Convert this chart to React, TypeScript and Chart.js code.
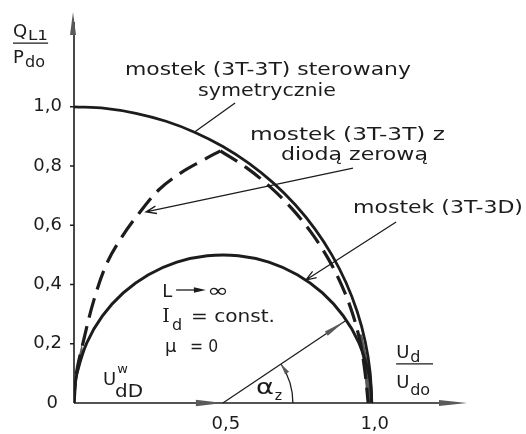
import { useEffect, useRef } from "react";
import { Chart, registerables } from "chart.js";

Chart.register(...registerables);

// (3T-3T) bridge, symmetric control: quarter circle Q = sin a, U = cos a
const symU = [1.0, 0.9945, 0.9781, 0.9511, 0.9135, 0.866, 0.809, 0.7431, 0.6691, 0.5878, 0.5, 0.4067, 0.309, 0.2079, 0.1045, 0.0];
const symQ = [0.0, 0.1045, 0.2079, 0.309, 0.4067, 0.5, 0.5878, 0.6691, 0.7431, 0.809, 0.866, 0.9135, 0.9511, 0.9781, 0.9945, 1.0];

// (3T-3D) half-controlled bridge: semicircle over 0..1
const halfU = [0.0, 0.0027, 0.0109, 0.0432, 0.0955, 0.1654, 0.25, 0.3455, 0.4477, 0.5523, 0.6545, 0.75, 0.8346, 0.9045, 0.9568, 0.9891, 0.9973, 1.0];
const halfQ = [0.0, 0.0523, 0.104, 0.2034, 0.2939, 0.3716, 0.433, 0.4755, 0.4973, 0.4973, 0.4755, 0.433, 0.3716, 0.2939, 0.2034, 0.104, 0.0523, 0.0];

// (3T-3T) bridge with freewheeling diode: rising and falling branch
const diodeRiseU = [0.0, 0.008, 0.027, 0.067, 0.111, 0.161, 0.218, 0.285, 0.359, 0.43, 0.4915];
const diodeRiseQ = [0.0, 0.1, 0.189, 0.348, 0.473, 0.561, 0.64, 0.72, 0.777, 0.818, 0.8513];
const diodeFallU = [0.4915, 0.5778, 0.6578, 0.7305, 0.7953, 0.8513, 0.898, 0.9349, 0.9615, 0.9776, 0.988];
const diodeFallQ = [0.8513, 0.7953, 0.7305, 0.6578, 0.5778, 0.4915, 0.3998, 0.3038, 0.2044, 0.1028, 0.0];

// ink-filled wedges where the curves run together
const shadeOriginU = [0.003, 0.012, 0.026, 0.031, 0.014, 0.006];
const shadeOriginQ = [0.06, 0.14, 0.2, 0.17, 0.1, 0.05];
const shadeEndU = [0.953, 0.972, 0.985, 1.003, 0.993, 0.968];
const shadeEndQ = [0.235, 0.13, 0.0, 0.0, 0.11, 0.23];

const yTicks = [0, 0.2, 0.4, 0.6, 0.8, 1.0];
const yTickLabels = ["0", "0,2", "0,4", "0,6", "0,8", "1,0"];
const xTicks = [0.5, 1.0];
const xTickLabels = ["0,5", "1,0"];

const INK = "#1c1c1c";
const GREY = "#5a5a5a";
const FONT = "DejaVu Sans";

const pts = (u: number[], q: number[]) => u.map((v, i) => ({ x: v, y: q[i] }));

type Note = { t: string; u: number; q: number; size: number; w?: number; family?: string };

const notes: Note[] = [
  { t: "mostek (3T-3T) sterowany", u: 0.171, q: 1.107, size: 17, w: 286 },
  { t: "symetrycznie", u: 0.4165, q: 1.036, size: 17, w: 138 },
  { t: "mostek (3T-3T) z", u: 0.591, q: 0.888, size: 17, w: 195 },
  { t: "diodą zerową", u: 0.695, q: 0.82, size: 17, w: 147 },
  { t: "mostek (3T-3D)", u: 0.937, q: 0.641, size: 17, w: 170 },
  { t: "L", u: 0.296, q: 0.358, size: 18 },
  { t: "∞", u: 0.447, q: 0.358, size: 19, w: 22 },
  { t: "I", u: 0.296, q: 0.273, size: 19, family: "DejaVu Serif" },
  { t: "d", u: 0.329, q: 0.246, size: 16 },
  { t: "= const.", u: 0.393, q: 0.273, size: 18, w: 84 },
  { t: "μ", u: 0.306, q: 0.172, size: 18 },
  { t: "= 0", u: 0.39, q: 0.172, size: 18, w: 28 },
  { t: "U", u: 0.097, q: 0.061, size: 18 },
  { t: "w", u: 0.145, q: 0.101, size: 13 },
  { t: "dD", u: 0.138, q: 0.02, size: 17, w: 28 },
  { t: "α", u: 0.611, q: 0.03, size: 21, w: 18 },
  { t: "z", u: 0.674, q: 0.01, size: 14 },
  { t: "U", u: 1.082, q: 0.152, size: 18 },
  { t: "d", u: 1.129, q: 0.138, size: 16 },
  { t: "U", u: 1.082, q: 0.051, size: 18 },
  { t: "do", u: 1.129, q: 0.027, size: 16 },
  { t: "Q", u: -0.205, q: 1.236, size: 18 },
  { t: "L1", u: -0.1545, q: 1.2255, size: 14, w: 20 },
  { t: "P", u: -0.205, q: 1.148, size: 18 },
  { t: "do", u: -0.1646, q: 1.134, size: 16, w: 20 },
];

function drawText(ctx: CanvasRenderingContext2D, s: string, x: number, y: number, size: number, w?: number, family = FONT) {
  ctx.font = `${size}px "${family}"`;
  const m = ctx.measureText(s).width;
  ctx.save();
  ctx.translate(x, y);
  if (w) ctx.scale(w / m, 1);
  ctx.fillText(s, 0, 0);
  ctx.restore();
}

function openArrow(ctx: CanvasRenderingContext2D, x0: number, y0: number, x1: number, y1: number, len = 11) {
  const a = Math.atan2(y1 - y0, x1 - x0);
  ctx.beginPath();
  ctx.moveTo(x0, y0);
  ctx.lineTo(x1, y1);
  ctx.moveTo(x1 - len * Math.cos(a - 0.35), y1 - len * Math.sin(a - 0.35));
  ctx.lineTo(x1, y1);
  ctx.lineTo(x1 - len * Math.cos(a + 0.35), y1 - len * Math.sin(a + 0.35));
  ctx.stroke();
}

function solidHead(ctx: CanvasRenderingContext2D, tx: number, ty: number, ang: number, len: number, half: number) {
  const bx = tx - len * Math.cos(ang);
  const by = ty - len * Math.sin(ang);
  ctx.beginPath();
  ctx.moveTo(tx, ty);
  ctx.lineTo(bx + half * Math.sin(ang), by - half * Math.cos(ang));
  ctx.lineTo(bx - half * Math.sin(ang), by + half * Math.cos(ang));
  ctx.closePath();
  ctx.fill();
}

const diagram = {
  id: "diagram",
  beforeDatasetsDraw(chart: any) {
    const { ctx, scales } = chart;
    const X = (u: number) => scales.x.getPixelForValue(u);
    const Y = (q: number) => scales.y.getPixelForValue(q);
    ctx.save();
    ctx.strokeStyle = INK;
    ctx.fillStyle = GREY;
    ctx.lineWidth = 1.6;
    const x0 = X(0), y0 = Y(0);
    const xEnd = X(scales.x.max), yEnd = Y(scales.y.max);
    // axes
    ctx.beginPath();
    ctx.moveTo(x0, y0);
    ctx.lineTo(x0, yEnd + 10);
    ctx.moveTo(x0, y0);
    ctx.lineTo(xEnd - 12, y0);
    ctx.stroke();
    ctx.fillStyle = GREY;
    solidHead(ctx, x0 - 1, yEnd, -Math.PI / 2, 23, 3);
    solidHead(ctx, xEnd, y0, 0, 28, 3);
    // y ticks
    ctx.beginPath();
    yTicks.forEach((t) => {
      if (t === 0) return;
      ctx.moveTo(x0 - 4, Y(t));
      ctx.lineTo(x0, Y(t));
    });
    ctx.stroke();
    // tick labels
    ctx.fillStyle = INK;
    ctx.font = `18px "${FONT}"`;
    ctx.textBaseline = "middle";
    ctx.textAlign = "right";
    yTicks.forEach((t, i) => {
      ctx.fillText(yTickLabels[i], t === 0 ? x0 - 16 : x0 - 12, Y(t));
    });
    ctx.textAlign = "center";
    xTicks.forEach((t, i) => ctx.fillText(xTickLabels[i], X(t) + 3, y0 + 21));
    // filled wedges
    ctx.fillStyle = GREY;
    [[shadeOriginU, shadeOriginQ], [shadeEndU, shadeEndQ]].forEach(([us, qs]) => {
      ctx.beginPath();
      us.forEach((u, i) => (i ? ctx.lineTo(X(u), Y(qs[i])) : ctx.moveTo(X(u), Y(qs[i]))));
      ctx.closePath();
      ctx.fill();
    });
    ctx.restore();
  },
  afterDatasetsDraw(chart: any) {
    const { ctx, scales } = chart;
    const X = (u: number) => scales.x.getPixelForValue(u);
    const Y = (q: number) => scales.y.getPixelForValue(q);
    ctx.save();
    ctx.strokeStyle = INK;
    ctx.lineWidth = 1.3;
    // leader lines
    ctx.beginPath();
    ctx.moveTo(X(0.541), Y(1.013));
    ctx.lineTo(X(0.405), Y(0.915));
    ctx.stroke();
    openArrow(ctx, X(0.937), Y(0.793), X(0.242), Y(0.645));
    openArrow(ctx, X(1.082), Y(0.611), X(0.779), Y(0.415));

    // firing-angle ray from the semicircle centre
    const cx = X(0.5), cy = Y(0);
    const tx = X(0.9145), ty = Y(0.2796);
    const ang = Math.atan2(ty - cy, tx - cx);
    ctx.beginPath();
    ctx.moveTo(cx, cy);
    ctx.lineTo(tx, ty);
    ctx.stroke();
    ctx.fillStyle = GREY;
    solidHead(ctx, tx - 2 * Math.cos(ang), ty - 2 * Math.sin(ang), ang, 22, 2.6);
    solidHead(ctx, cx, cy, 0, 27, 3.2);
    // angle arc
    const r = 70;
    ctx.beginPath();
    ctx.arc(cx, cy, r, 0, ang, true);
    ctx.stroke();
    const ax = cx + r * Math.cos(ang), ay = cy + r * Math.sin(ang);
    solidHead(ctx, ax, ay, ang - Math.PI / 2, 11, 2.4);

    // L -> infinity arrow
    ctx.beginPath();
    ctx.moveTo(X(0.343), Y(0.3815));
    ctx.lineTo(X(0.42), Y(0.3815));
    ctx.stroke();
    ctx.fillStyle = INK;
    solidHead(ctx, X(0.443), Y(0.3815), 0, 12, 2.8);

    // fraction bars
    ctx.lineWidth = 1.4;
    ctx.beginPath();
    ctx.moveTo(X(1.082), Y(0.132));
    ctx.lineTo(X(1.206), Y(0.132));
    ctx.moveTo(X(-0.205), Y(1.215));
    ctx.lineTo(X(-0.087), Y(1.215));
    ctx.stroke();

    // text
    ctx.fillStyle = INK;
    ctx.textBaseline = "alphabetic";
    ctx.textAlign = "left";
    notes.forEach((n) => drawText(ctx, n.t, X(n.u), Y(n.q), n.size, n.w, n.family));
    ctx.restore();
  },
};

export default function App() {
  const ref = useRef<HTMLCanvasElement | null>(null);
  useEffect(() => {
    if (!ref.current) return;
    const line = (data: any, width: number, dash: number[] = []) => ({
      data,
      showLine: true,
      borderColor: INK,
      borderWidth: width,
      borderDash: dash,
      pointRadius: 0,
      tension: 0.35,
      fill: false,
    });
    const chart = new Chart(ref.current, {
      type: "scatter",
      data: {
        datasets: [
          line(pts(symU, symQ), 2.8),
          line(pts(halfU, halfQ), 3),
          line(pts(diodeRiseU, diodeRiseQ), 3.2, [20, 9]),
          line(pts(diodeFallU, diodeFallQ), 3.2, [20, 9]),
        ] as any,
      },
      options: {
        animation: false,
        responsive: true,
        maintainAspectRatio: false,
        layout: { padding: { left: 74, right: 59, top: 12, bottom: 31 } },
        plugins: { legend: { display: false }, tooltip: { enabled: false } },
        scales: {
          x: { type: "linear", min: 0, max: 1.32, display: false },
          y: { type: "linear", min: 0, max: 1.32, display: false },
        },
      },
      plugins: [diagram],
    });
    return () => chart.destroy();
  }, []);
  return (
    <div style={{ position: "fixed", left: 0, top: 0, width: 526, height: 434, background: "#fff" }}>
      <canvas ref={ref} />
    </div>
  );
}
